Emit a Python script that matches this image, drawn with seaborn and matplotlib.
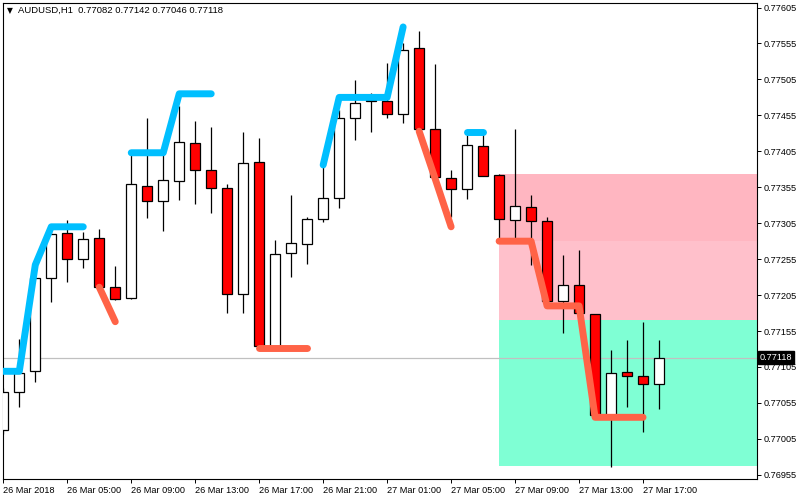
import numpy as np
import pandas as pd
import matplotlib
matplotlib.use("Agg")
import matplotlib.pyplot as plt
import matplotlib.transforms as mtrans
from matplotlib.patches import Rectangle
import seaborn as sns

# ---------------- data ----------------
symbol = "AUDUSD,H1"
opens = [0.77017, 0.77070, 0.77099, 0.77229, 0.77291, 0.77255, 0.77284, 0.77216, 0.77201, 0.77357,
         0.77336, 0.77364, 0.77417, 0.77379, 0.77354, 0.77206, 0.77390, 0.77134, 0.77264, 0.77276,
         0.77311, 0.77340, 0.77451, 0.77475, 0.77475, 0.77457, 0.77549, 0.77436, 0.77368, 0.77353,
         0.77412, 0.77372, 0.77309, 0.77328, 0.77308, 0.77197, 0.77219, 0.77179, 0.77035, 0.77098,
         0.77092, 0.77082]
highs = [0.77076, 0.77144, 0.77243, 0.77298, 0.77309, 0.77293, 0.77297, 0.77246, 0.77401, 0.77451,
         0.77405, 0.77468, 0.77447, 0.77439, 0.77360, 0.77432, 0.77423, 0.77282, 0.77344, 0.77314,
         0.77386, 0.77462, 0.77504, 0.77486, 0.77528, 0.77556, 0.77572, 0.77526, 0.77379, 0.77428,
         0.77430, 0.77373, 0.77436, 0.77344, 0.77314, 0.77261, 0.77268, 0.77179, 0.77129, 0.77143,
         0.77168, 0.77142]
lows = [0.77012, 0.77049, 0.77084, 0.77195, 0.77223, 0.77243, 0.77213, 0.77198, 0.77200, 0.77312,
        0.77294, 0.77337, 0.77332, 0.77319, 0.77180, 0.77180, 0.77134, 0.77134, 0.77230, 0.77248,
        0.77307, 0.77326, 0.77421, 0.77432, 0.77451, 0.77444, 0.77436, 0.77365, 0.77314, 0.77339,
        0.77371, 0.77282, 0.77282, 0.77247, 0.77197, 0.77152, 0.77180, 0.77038, 0.76966, 0.77049,
        0.77015, 0.77046]
closes = [0.77070, 0.77097, 0.77229, 0.77290, 0.77255, 0.77283, 0.77216, 0.77200, 0.77360, 0.77336,
          0.77365, 0.77418, 0.77379, 0.77354, 0.77206, 0.77389, 0.77134, 0.77262, 0.77277, 0.77311,
          0.77340, 0.77451, 0.77472, 0.77476, 0.77457, 0.77546, 0.77436, 0.77369, 0.77353, 0.77414,
          0.77371, 0.77311, 0.77329, 0.77308, 0.77197, 0.77219, 0.77180, 0.77038, 0.77097, 0.77092,
          0.77081, 0.77118]

time_tick_bars = [0, 4, 8, 12, 16, 20, 24, 28, 32, 36, 40]
time_tick_labels = ["26 Mar 2018", "26 Mar 05:00", "26 Mar 09:00", "26 Mar 13:00", "26 Mar 17:00",
                    "26 Mar 21:00", "27 Mar 01:00", "27 Mar 05:00", "27 Mar 09:00", "27 Mar 13:00",
                    "27 Mar 17:00"]
price_ticks = [0.76955, 0.77005, 0.77055, 0.77105, 0.77155, 0.77205, 0.77255, 0.77305,
               0.77355, 0.77405, 0.77455, 0.77505, 0.77555, 0.77605]

# indicator segments (bar index, level)
blue_a_x = [0, 1, 2, 3, 4, 5]
blue_a_y = [0.77099, 0.77099, 0.77247, 0.77300, 0.77300, 0.77300]
blue_b_x = [8, 9, 10, 11, 12, 13]
blue_b_y = [0.77403, 0.77403, 0.77403, 0.77485, 0.77485, 0.77485]
blue_c_x = [20, 21, 22, 23, 24, 25]
blue_c_y = [0.77386, 0.77480, 0.77480, 0.77480, 0.77480, 0.77578]
blue_d_x = [29, 30]
blue_d_y = [0.77432, 0.77432]
red_a_x = [6, 7]
red_a_y = [0.77216, 0.77168]
red_b_x = [16, 17, 18, 19]
red_b_y = [0.77131, 0.77131, 0.77131, 0.77131]
red_c_x = [26, 27, 28]
red_c_y = [0.77433, 0.77367, 0.77300]
red_d_x = [31, 32, 33, 34, 35, 36, 37, 38, 39, 40]
red_d_y = [0.77280, 0.77280, 0.77280, 0.77190, 0.77190, 0.77190, 0.77035, 0.77035, 0.77035, 0.77035]

# zones
zone_start = 31
zone_levels = [0.77373, 0.77280, 0.77170, 0.76967]
zone_colors = ["#FFB6C1", "#FFC0CB", "#7FFFD4"]

last_price = 0.77118

# ---------------- style ----------------
sns.set_style("white")
plt.rcParams['font.family'] = ['Liberation Sans', 'DejaVu Sans']

fig = plt.figure(figsize=(8, 5), dpi=100)
ax = fig.add_axes([3 / 800, 1 - 479 / 500, 754 / 800, 476.5 / 500])

n = len(opens)
x = np.arange(n)
o = np.array(opens); c = np.array(closes); h = np.array(highs); l = np.array(lows)

# zones
for k, col in enumerate(zone_colors):
    top, bot = zone_levels[k], zone_levels[k + 1]
    ax.add_patch(Rectangle((zone_start, bot), 60, top - bot, facecolor=col,
                           edgecolor='none', zorder=0))

# last price line
ax.axhline(last_price, color='#C0C0C0', linewidth=0.9, zorder=1)

# candles
up = c >= o
ax.vlines(x, l, h, color='black', linewidth=0.9, zorder=2)
ax.bar(x, np.maximum(np.abs(c - o), 0.000008), bottom=np.minimum(o, c), width=0.62,
       color=np.where(up, 'white', '#FF0000'), edgecolor='black', linewidth=0.9, zorder=3)

# indicator lines
segs = [(blue_a_x, blue_a_y, '#00BFFF'), (blue_b_x, blue_b_y, '#00BFFF'),
        (blue_c_x, blue_c_y, '#00BFFF'), (blue_d_x, blue_d_y, '#00BFFF'),
        (red_a_x, red_a_y, '#FF6347'), (red_b_x, red_b_y, '#FF6347'),
        (red_c_x, red_c_y, '#FF6347'), (red_d_x, red_d_y, '#FF6347')]
for sx, sy, col in segs:
    df = pd.DataFrame({"bar": sx, "level": sy})
    sns.lineplot(data=df, x="bar", y="level", ax=ax, color=col, linewidth=5.0,
                 solid_capstyle='round', solid_joinstyle='round', sort=False,
                 estimator=None, zorder=4, legend=False)

ax.set_xlim(-0.019, 47.125)
ax.set_ylim(0.769492, 0.776120)
ax.set_xlabel("")
ax.set_ylabel("")

for sp in ax.spines.values():
    sp.set_color('black')
    sp.set_linewidth(0.8)
    sp.set_visible(True)

ax.yaxis.tick_right()
ax.set_yticks(price_ticks)
ax.set_yticklabels([f"{p:.5f}" for p in price_ticks])
ax.tick_params(axis='y', direction='out', length=3.2, width=0.7, pad=1.5,
               labelsize=6.6, colors='black', right=True, left=False)
ax.set_xticks(time_tick_bars)
ax.set_xticklabels(time_tick_labels, ha='left')
for lab in ax.get_xticklabels():
    lab.set_transform(lab.get_transform() + mtrans.ScaledTranslation(-1 / 100, 0, fig.dpi_scale_trans))
ax.tick_params(axis='x', direction='out', length=3.2, width=0.7, pad=1.5,
               labelsize=6.6, colors='black', bottom=True)
ax.grid(False)

# last price tag
trans = mtrans.blended_transform_factory(ax.transAxes, ax.transData)
ax.text(1.004, last_price, f"{last_price:.5f}", transform=trans, ha='left', va='center',
        fontsize=6.6, color='white', zorder=10, clip_on=False,
        bbox=dict(boxstyle='square,pad=0.18', facecolor='black', edgecolor='black'))

# header
fig.text(7 / 800, 1 - 10.5 / 500, "▼", fontsize=5.5, ha='left', va='center',
         family=['DejaVu Sans'], color='black')
fig.text(18 / 800, 1 - 10.5 / 500,
         f"{symbol}  {opens[-1]:.5f} {highs[-1]:.5f} {lows[-1]:.5f} {closes[-1]:.5f}",
         fontsize=6.8, ha='left', va='center', color='black')

fig.savefig("out.png", dpi=100)
